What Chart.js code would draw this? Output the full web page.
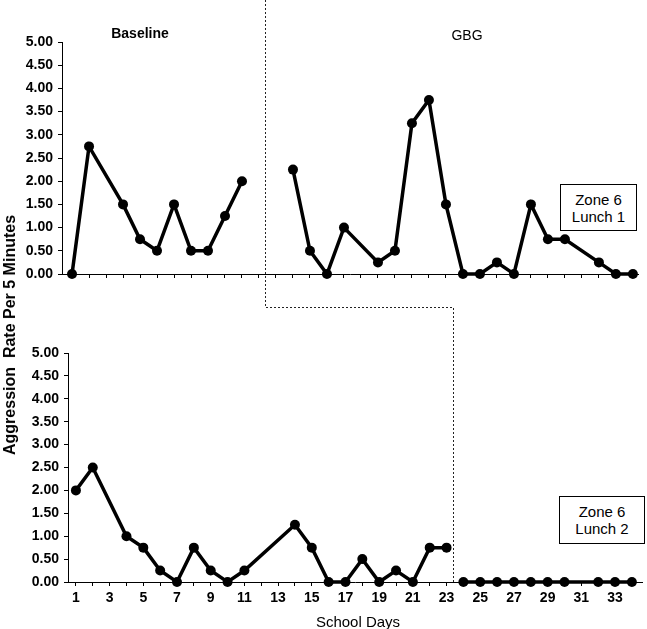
<!DOCTYPE html>
<html>
<head>
<meta charset="utf-8">
<script src="https://cdn.jsdelivr.net/npm/chart.js@4.4.1/dist/chart.umd.min.js"></script>
<style>
  html, body { margin: 0; padding: 0; background: #fff; }
  #wrap { position: relative; width: 647px; height: 629px; font-family: "Liberation Sans", Arial, sans-serif; color: #000; }
  canvas { position: absolute; left: 0; top: 0; }
  .lbl { position: absolute; white-space: nowrap; transform: translate(-50%, -50%); }
  .box { position: absolute; border: 1.5px solid #000; box-sizing: border-box; background: #fff;
         display: flex; flex-direction: column; align-items: center; justify-content: center;
         font-size: 15px; line-height: 17px; }
</style>
</head>
<body>
<div id="wrap">
  <canvas id="topChart" width="647" height="629"></canvas>
  <canvas id="bottomChart" width="647" height="629"></canvas>
  <div class="lbl" style="left:140px; top:33px; font-weight:bold; font-size:14px;">Baseline</div>
  <div class="lbl" style="left:467px; top:35px; font-size:14px;">GBG</div>
  <div class="lbl" style="left:10px; top:335px; font-weight:bold; font-size:16px; transform: translate(-50%, -50%) rotate(-90deg);">Aggression&nbsp; Rate Per 5 Minutes</div>
  <div class="lbl" style="left:358px; top:621px; font-size:15px;">School Days</div>
  <div class="box" style="left:560px; top:184px; width:77px; height:47px;"><div>Zone 6</div><div>Lunch 1</div></div>
  <div class="box" style="left:559px; top:496px; width:86px; height:48px;"><div>Zone 6</div><div>Lunch 2</div></div>
</div>
<script>
// ---- data ----
const allDays = [1,2,3,4,5,6,7,8,9,10,11,12,13,14,15,16,17,18,19,20,21,22,23,24,25,26,27,28,29,30,31,32,33,34];
const yTicks = [0,0.5,1,1.5,2,2.5,3,3.5,4,4.5,5];

const lunch1BaselineDays = [1,2,4,5,6,7,8,9,10,11];
const lunch1BaselineVals = [0,2.75,1.5,0.75,0.5,1.5,0.5,0.5,1.25,2.0];
const lunch1GbgDays = [14,15,16,17,19,20,21,22,23,24,25,26,27,28,29,30,32,33,34];
const lunch1GbgVals = [2.25,0.5,0,1.0,0.25,0.5,3.25,3.75,1.5,0,0,0.25,0,1.5,0.75,0.75,0.25,0,0];

const lunch2BaselineDays = [1,2,4,5,6,7,8,9,10,11,14,15,16,17,18,19,20,21,22,23];
const lunch2BaselineVals = [2,2.5,1,0.75,0.25,0,0.75,0.25,0,0.25,1.25,0.75,0,0,0.5,0,0.25,0,0.75,0.75];
const lunch2GbgDays = [24,25,26,27,28,29,30,32,33,34];
const lunch2GbgVals = [0,0,0,0,0,0,0,0,0,0];

const phaseChangeLunch1 = 12.35;
const phaseChangeLunch2 = 23.4;

// ---- helpers ----
const FONT = '"Liberation Sans", Arial, sans-serif';
function pts(days, vals) { return days.map((d, i) => ({ x: d, y: vals[i] })); }
function ds(days, vals) {
  return {
    data: pts(days, vals),
    borderColor: '#000', backgroundColor: '#000', borderWidth: 3.5,
    pointRadius: 5, pointHoverRadius: 5, pointBorderWidth: 0,
    pointBackgroundColor: '#000', tension: 0, clip: false
  };
}
function yScale(width) {
  return {
    type: 'linear', min: 0, max: 5,
    afterBuildTicks: s => { s.ticks = yTicks.map(v => ({ value: v })); },
    afterFit: s => { s.width = width; },
    ticks: { callback: v => Number(v).toFixed(2), color: '#000', padding: 5,
             font: { family: FONT, size: 14, weight: 'bold' } },
    grid: { drawOnChartArea: false, drawTicks: true, tickLength: 4, color: '#000' },
    border: { color: '#000', width: 1 }
  };
}
function xScale(min, max, height, showLabels) {
  return {
    type: 'linear', min: min, max: max, position: 'bottom',
    afterBuildTicks: s => { s.ticks = allDays.map(v => ({ value: v })); },
    afterFit: s => { s.height = height; },
    ticks: { display: showLabels, autoSkip: false, maxRotation: 0, color: '#000', padding: 4,
             callback: v => (v % 2 === 1 ? String(v) : ''),
             font: { family: FONT, size: 14, weight: 'bold' } },
    grid: { drawOnChartArea: false, drawTicks: true, tickLength: 4, color: '#000' },
    border: { color: '#000', width: 1 }
  };
}
const common = {
  responsive: false, animation: false, events: [],
  plugins: { legend: { display: false }, tooltip: { enabled: false } }
};

const topChart = new Chart(document.getElementById('topChart'), {
  type: 'line',
  data: { datasets: [ds(lunch1BaselineDays, lunch1BaselineVals), ds(lunch1GbgDays, lunch1GbgVals)] },
  options: Object.assign({}, common, {
    layout: { padding: { top: 42, right: 9, left: 0, bottom: 0 } },
    scales: { x: xScale(0.41, 34.3, 355, false), y: yScale(62) }
  })
});

const phasePlugin = {
  id: 'phaseLines',
  afterDraw(chart) {
    const ctx = chart.ctx;
    const tx = topChart.scales.x.getPixelForValue(phaseChangeLunch1);
    const hy = topChart.chartArea.bottom + 33;
    const bx = chart.scales.x.getPixelForValue(phaseChangeLunch2);
    const by = chart.chartArea.bottom;
    ctx.save();
    ctx.strokeStyle = '#222';
    ctx.lineWidth = 1;
    ctx.setLineDash([2, 2]);
    ctx.beginPath();
    ctx.moveTo(Math.round(tx) + 0.5, 0);
    ctx.lineTo(Math.round(tx) + 0.5, Math.round(hy) + 0.5);
    ctx.lineTo(Math.round(bx) + 0.5, Math.round(hy) + 0.5);
    ctx.lineTo(Math.round(bx) + 0.5, by);
    ctx.stroke();
    ctx.restore();
  }
};

const bottomChart = new Chart(document.getElementById('bottomChart'), {
  type: 'line',
  data: { datasets: [ds(lunch2BaselineDays, lunch2BaselineVals), ds(lunch2GbgDays, lunch2GbgVals)] },
  options: Object.assign({}, common, {
    layout: { padding: { top: 353, right: 0, left: 0, bottom: 0 } },
    scales: { x: xScale(0.53, 34.6, 47, true), y: yScale(68) }
  }),
  plugins: [phasePlugin]
});
</script>
</body>
</html>
